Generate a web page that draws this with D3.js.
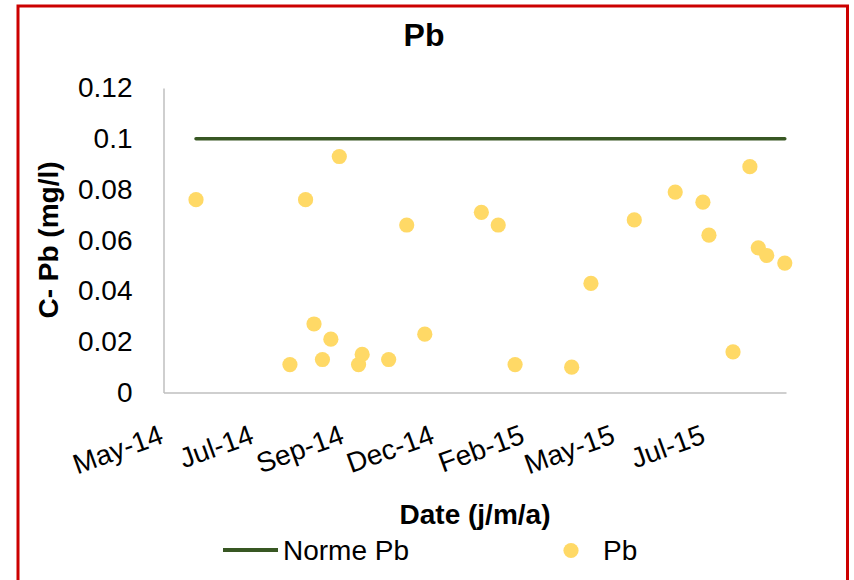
<!DOCTYPE html>
<html>
<head>
<meta charset="utf-8">
<script src="https://cdn.jsdelivr.net/npm/d3@7"></script>
<style>
  html, body { margin: 0; padding: 0; background: #fff; }
  svg { display: block; font-family: "Liberation Sans", Arial, sans-serif; }
</style>
</head>
<body>
<svg id="chart" width="854" height="580"></svg>
<script>
// Sampling dates and measured lead concentration (mg/l)
const sampleDates = [
  "2014-05-28", "2014-08-14", "2014-08-27", "2014-09-03", "2014-09-10",
  "2014-09-17", "2014-09-24", "2014-10-10", "2014-10-13", "2014-11-04",
  "2014-11-19", "2014-12-04", "2015-01-20", "2015-02-03", "2015-02-17",
  "2015-04-05", "2015-04-21", "2015-05-27", "2015-06-30", "2015-07-23",
  "2015-07-28", "2015-08-17", "2015-08-31", "2015-09-07", "2015-09-14",
  "2015-09-29"
];
const pbValues = [
  0.076, 0.011, 0.076, 0.027, 0.013,
  0.021, 0.093, 0.011, 0.015, 0.013,
  0.066, 0.023, 0.071, 0.066, 0.011,
  0.010, 0.043, 0.068, 0.079, 0.075,
  0.062, 0.016, 0.089, 0.057, 0.054,
  0.051
];
// Regulatory limit for Pb
const normePb = 0.1;

// Axis settings
const xDomain = ["2014-05-01", "2015-09-30"];
const xTickDates = ["2014-05-01", "2014-07-15", "2014-09-28", "2014-12-12",
                    "2015-02-25", "2015-05-11", "2015-07-25"];
const yTicks = [0, 0.02, 0.04, 0.06, 0.08, 0.1, 0.12];

const chartTitle = "Pb";
const xTitle = "Date (j/m/a)";
const yTitle = "C- Pb (mg/l)";
const legendLabels = ["Norme Pb", "Pb"];

const parse = d3.utcParse("%Y-%m-%d");
const fmtTick = d3.utcFormat("%b-%y");
const fmtY = d => d3.format("")(+d.toFixed(2));

const colLimit = "#385723";
const colDot = "#FFD966";
const colAxis = "#BFBFBF";

const svg = d3.select("#chart");

const plot = { left: 163.5, right: 786, top: 88, bottom: 392.5 };

const x = d3.scaleUtc()
  .domain(xDomain.map(parse))
  .range([plot.left, plot.right]);
const y = d3.scaleLinear()
  .domain([0, 0.12])
  .range([plot.bottom, plot.top]);

// Outer frame
svg.append("rect")
  .attr("x", 18).attr("y", 6)
  .attr("width", 829.5).attr("height", 600)
  .attr("fill", "none")
  .attr("stroke", "#CC0000")
  .attr("stroke-width", 3);

// Title
svg.append("text")
  .attr("x", 424).attr("y", 46)
  .attr("text-anchor", "middle")
  .attr("font-size", 32).attr("font-weight", "bold")
  .text(chartTitle);

// Y axis
const yAxis = svg.append("g")
  .attr("transform", `translate(${plot.left},0)`)
  .call(d3.axisLeft(y).tickValues(yTicks).tickFormat(fmtY).tickSize(0).tickPadding(31));
yAxis.select(".domain").attr("stroke", colAxis).attr("stroke-width", 1.5);
yAxis.selectAll("text").attr("font-size", 28).attr("font-family", "Liberation Sans, Arial, sans-serif")
  .attr("fill", "#000");

// X axis
const xAxis = svg.append("g")
  .attr("transform", `translate(0,${plot.bottom})`)
  .call(d3.axisBottom(x).tickValues(xTickDates.map(parse)).tickFormat(fmtTick).tickSize(0));
xAxis.select(".domain").attr("stroke", colAxis).attr("stroke-width", 1.5);
xAxis.selectAll("text")
  .attr("font-size", 28).attr("font-family", "Liberation Sans, Arial, sans-serif")
  .attr("fill", "#000")
  .attr("text-anchor", "end")
  .attr("x", 1).attr("y", 50).attr("dy", 0)
  .attr("transform", "rotate(-20 1 50)");

// Axis titles
svg.append("text")
  .attr("x", 475).attr("y", 524)
  .attr("text-anchor", "middle")
  .attr("font-size", 28).attr("font-weight", "bold")
  .text(xTitle);

svg.append("text")
  .attr("transform", "translate(58,240) rotate(-90)")
  .attr("text-anchor", "middle")
  .attr("font-size", 28).attr("font-weight", "bold")
  .text(yTitle);

// Limit line spanning the sampling period
const dates = sampleDates.map(parse);
const extent = d3.extent(dates);
svg.append("line")
  .attr("x1", x(extent[0])).attr("x2", x(extent[1]))
  .attr("y1", y(normePb)).attr("y2", y(normePb))
  .attr("stroke", colLimit).attr("stroke-width", 3.5)
  .attr("stroke-linecap", "round");

// Measured points
svg.append("g")
  .selectAll("circle")
  .data(dates.map((d, i) => ({ date: d, value: pbValues[i] })))
  .join("circle")
  .attr("cx", d => x(d.date))
  .attr("cy", d => y(d.value))
  .attr("r", 7.6)
  .attr("fill", colDot);

// Legend
const legend = svg.append("g");
legend.append("line")
  .attr("x1", 223).attr("x2", 278)
  .attr("y1", 550).attr("y2", 550)
  .attr("stroke", colLimit).attr("stroke-width", 4);
legend.append("text")
  .attr("x", 283).attr("y", 560)
  .attr("font-size", 28)
  .text(legendLabels[0]);
legend.append("circle")
  .attr("cx", 571).attr("cy", 550.5).attr("r", 7.6)
  .attr("fill", colDot);
legend.append("text")
  .attr("x", 603).attr("y", 560)
  .attr("font-size", 28)
  .text(legendLabels[1]);
</script>
</body>
</html>
